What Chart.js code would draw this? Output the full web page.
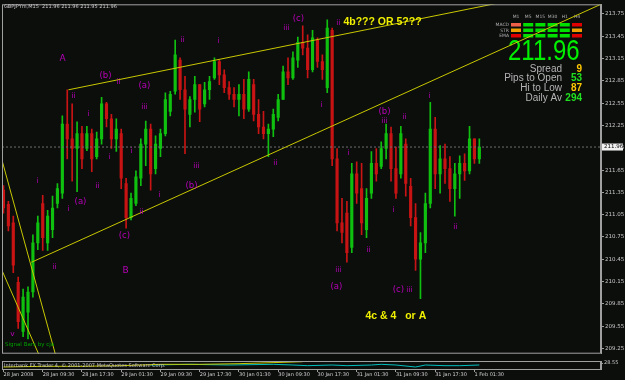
<!DOCTYPE html>
<html>
<head>
<meta charset="utf-8">
<script src="https://cdn.jsdelivr.net/npm/chart.js@4.4.1/dist/chart.umd.min.js"></script>
<style>
html, body { margin: 0; padding: 0; background: #0c0e0c; }
#wrap { position: relative; width: 625px; height: 380px; overflow: hidden; background: #0c0e0c; }
#main { position: absolute; left: 0; top: 0; }
#ind { position: absolute; left: 0; top: 357px; }
</style>
</head>
<body>
<div id="wrap">
  <canvas id="main" width="625" height="358"></canvas>
  <canvas id="ind" width="625" height="23"></canvas>
</div>
<script>
// GBPJPYm bars, one per hour counted from 28 Jan 01:30
const barOpen = [211.38, 211.19, 210.94, 210.14, 209.48, 209.74, 210.01, 210.67, 211.20, 210.67,
  210.85, 211.20, 211.34, 212.27, 212.07, 211.94, 212.14, 211.94, 212.14, 211.83,
  212.07, 212.54, 212.34, 212.07, 212.14, 211.47, 211.01, 211.20, 211.54, 212.00,
  212.20, 211.67, 211.94, 212.14, 212.44, 212.71, 213.13, 212.73, 212.40, 212.60,
  212.80, 212.54, 212.73, 212.89, 213.11, 212.93, 212.76, 212.67, 212.60, 212.67,
  212.47, 212.80, 212.40, 212.23, 212.14, 212.20, 212.36, 212.60, 212.97, 212.89,
  213.13, 213.37, 213.29, 213.00, 213.40, 213.11, 212.76, 213.53, 211.80, 210.94,
  211.07, 210.61, 211.60, 211.40, 210.85, 211.34, 211.74, 211.70, 211.94, 212.14,
  211.67, 211.60, 212.00, 211.43, 211.01, 210.45, 210.67, 211.20, 212.20, 211.60,
  211.80, 211.67, 211.40, 211.60, 211.74, 211.64, 212.07, 211.80];
const barHigh = [211.44, 211.23, 211.03, 210.21, 210.05, 210.08, 210.78, 211.03, 211.31, 211.11,
  211.30, 211.47, 212.38, 212.73, 212.54, 212.30, 212.24, 212.24, 212.20, 212.16,
  212.63, 212.56, 212.40, 212.34, 212.20, 211.54, 211.34, 211.64, 212.07, 212.31,
  212.27, 212.11, 212.20, 212.69, 212.71, 213.40, 213.16, 212.91, 212.64, 212.91,
  212.80, 212.83, 212.91, 213.16, 213.13, 213.00, 212.84, 212.76, 212.80, 212.87,
  212.97, 212.87, 212.60, 212.44, 212.27, 212.47, 212.67, 213.05, 213.16, 213.24,
  213.44, 213.59, 213.47, 213.53, 213.43, 213.20, 213.67, 213.56, 211.94, 211.27,
  211.23, 211.74, 211.76, 211.74, 211.40, 211.90, 211.94, 212.03, 212.27, 212.23,
  211.96, 212.24, 212.07, 211.54, 211.20, 210.81, 211.34, 212.56, 212.36, 211.98,
  212.00, 211.83, 211.74, 211.84, 211.87, 212.24, 212.07, 212.07];
const barLow = [211.07, 210.83, 210.27, 209.52, 209.41, 209.38, 209.94, 210.58, 210.57, 210.57,
  210.74, 211.14, 211.27, 211.80, 211.50, 211.36, 211.67, 211.91, 211.63, 211.80,
  212.00, 212.23, 211.94, 211.90, 211.40, 210.87, 210.98, 211.17, 211.44, 211.71,
  211.38, 211.60, 211.83, 212.11, 212.38, 212.67, 212.60, 211.87, 212.23, 212.43,
  212.30, 212.50, 212.60, 212.87, 212.80, 212.69, 212.60, 212.50, 212.38, 212.34,
  212.44, 212.31, 212.14, 212.07, 211.83, 212.10, 212.31, 212.60, 212.80, 212.87,
  213.03, 213.20, 212.89, 212.97, 213.03, 212.87, 212.69, 211.71, 210.83, 210.67,
  210.41, 210.54, 211.20, 210.78, 210.74, 211.27, 211.50, 211.67, 211.80, 211.50,
  211.27, 211.54, 211.30, 210.90, 210.30, 209.92, 210.54, 211.14, 211.40, 211.34,
  211.47, 211.23, 211.03, 211.27, 211.51, 211.60, 211.74, 211.74];
const barClose = [211.14, 210.90, 210.37, 209.61, 209.94, 210.01, 210.67, 210.94, 210.74, 211.03,
  211.14, 211.40, 212.27, 212.07, 211.94, 212.14, 211.80, 212.14, 211.80, 212.07,
  212.54, 212.34, 212.07, 212.20, 211.54, 211.01, 211.27, 211.56, 212.00, 212.20,
  211.60, 212.00, 212.14, 212.60, 212.67, 213.20, 212.73, 212.47, 212.60, 212.80,
  212.47, 212.73, 212.84, 213.11, 212.93, 212.76, 212.67, 212.60, 212.67, 212.47,
  212.87, 212.40, 212.23, 212.14, 212.20, 212.40, 212.60, 212.97, 212.89, 213.16,
  213.37, 213.29, 213.00, 213.43, 213.11, 213.00, 213.56, 211.80, 210.94, 210.81,
  210.54, 211.60, 211.34, 210.94, 211.27, 211.74, 211.60, 211.94, 212.14, 211.67,
  211.34, 212.14, 211.47, 211.01, 210.45, 210.67, 211.20, 212.20, 211.60, 211.80,
  211.67, 211.40, 211.60, 211.74, 211.64, 212.07, 211.80, 211.96];

const bidPrice = 211.96;
const priceTicks = [209.25, 209.55, 209.85, 210.15, 210.45, 210.75, 211.05, 211.35, 211.65, 211.95,
  212.25, 212.55, 212.85, 213.15, 213.45, 213.75];
const timeTicks = [0, 8, 16, 24, 32, 40, 48, 56, 64, 72, 80, 88, 96];
const timeLabels = ['28 Jan 2008', '28 Jan 09:30', '28 Jan 17:30', '29 Jan 01:30', '29 Jan 09:30',
  '29 Jan 17:30', '30 Jan 01:30', '30 Jan 09:30', '30 Jan 17:30', '31 Jan 01:30', '31 Jan 09:30',
  '31 Jan 17:30', '1 Feb 01:30'];

// trend lines, [hour, price] pairs
const upperChannel = [{x: 13.25, y: 212.73}, {x: 122.1, y: 214.18}];
const lowerChannel = [{x: 5.71, y: 210.41}, {x: 122.1, y: 213.89}];
const steepLine1 = [{x: -0.5, y: 211.83}, {x: 11.8, y: 208.88}];
const steepLine2 = [{x: -0.5, y: 210.33}, {x: 8, y: 209.05}];

// wave count labels
const waveText = ['A', '(b)', 'ii', 'ii', 'i', '(a)', 'iii', 'i', '(a)', 'ii', 'i', 'i', 'ii', 'v', '(c)', 'B',
  'ii', 'i', 'i', 'iii', '(b)', 'ii', 'i', 'iii', '(c)', 'ii', 'i', 'ii', 'i', '(b)', 'iii', 'ii', 'i', 'i',
  'ii', 'ii', '(c)', 'iii', 'iii', '(a)'];
const waveHour = [12.03, 20.79, 23.44, 14.27, 17.33, 28.74, 28.74, 6.93, 15.70, 19.16, 21.61, 13.25, 10.40, 1.83, 24.66, 24.87,
  28.13, 26.09, 31.80, 39.34, 38.32, 36.49, 43.82, 57.68, 60.13, 68.28, 64.82, 55.44, 70.32, 77.66, 77.66, 81.74, 86.83, 79.49,
  74.40, 92.13, 80.51, 82.76, 68.28, 67.88];
const wavePrice = [213.15, 212.92, 212.83, 212.64, 212.40, 212.79, 212.50, 211.50, 211.23, 211.44, 211.82, 211.13, 210.34, 209.45, 210.77, 210.30,
  211.09, 211.91, 211.31, 211.70, 211.44, 213.40, 213.39, 213.56, 213.69, 213.63, 212.52, 211.75, 211.88, 212.44, 212.31, 212.36, 212.64, 211.11,
  210.58, 210.89, 210.04, 210.04, 210.31, 210.08];

const noteText = ['4b??? OR 5???', '4c & 4   or A'];
const noteHour = [69.3, 73.8];
const notePrice = [213.64, 209.68];

// indicator window
const cyanLine = [{x: 30, y: 28.50}, {x: 38, y: 28.517}, {x: 46, y: 28.50}, {x: 55, y: 28.517}, {x: 59, y: 28.50},
  {x: 62, y: 28.483}, {x: 67, y: 28.50}, {x: 70, y: 28.483}, {x: 75, y: 28.50}, {x: 77, y: 28.517}, {x: 80, y: 28.50},
  {x: 84, y: 28.45}, {x: 86, y: 28.50}, {x: 90, y: 28.483}, {x: 93, y: 28.483}, {x: 97, y: 28.50}];
const yellowLine = [{x: 0, y: 28.45}, {x: 8, y: 28.467}, {x: 16, y: 28.467}, {x: 24, y: 28.483}, {x: 32, y: 28.517},
  {x: 40, y: 28.517}, {x: 48, y: 28.533}, {x: 57, y: 28.567}, {x: 61, y: 28.583}];

const signalNames = ['MACD', 'STR', 'EMA'];
const frameNames = ['M1', 'M5', 'M15', 'M30', 'H1', 'H4'];
const signalColors = [
  ['#f06048', '#00e000', '#00e000', '#00e000', '#00e000', '#e00000'],
  ['#f0a000', '#00e000', '#00e000', '#00e000', '#00e000', '#f0a000'],
  ['#e00000', '#00e000', '#00e000', '#00e000', '#00e000', '#e00000']];
const statNames = ['Spread', 'Pips to Open', 'Hi to Low', 'Daily Av'];
const statValues = ['9', '53', '87', '294'];
const statColors = ['#ffc800', '#20e020', '#ffc800', '#20e020'];

const UP = '#10c010';
const DOWN = '#c81414';
const X_MIN = -0.3, X_MAX = 121.8;

const hours = barOpen.map((v, i) => i);
const wicks = hours.map(i => ({x: i, y: [barLow[i], barHigh[i]]}));
const bodies = hours.map(i => ({x: i, y: [Math.min(barOpen[i], barClose[i]), Math.max(barOpen[i], barClose[i])]}));
const barColors = hours.map(i => barClose[i] >= barOpen[i] ? UP : DOWN);

function txt(ctx, s, x, y, font, color, align) {
    ctx.font = font;
    ctx.fillStyle = color;
    ctx.textAlign = align || 'left';
    ctx.textBaseline = 'middle';
    ctx.fillText(s, x, y);
}

const panelPlugin = {
    id: 'panel',
    beforeDatasetsDraw(chart) {
        const ctx = chart.ctx;
        ctx.save();
        // signal table top right
        frameNames.forEach((f, c) => txt(ctx, f, 516 + c * 12.2, 17, '4.5px DejaVu Sans', '#b0b0b0', 'center'));
        signalNames.forEach((n, r) => {
            txt(ctx, n, 509, 25 + r * 5.5, '4.5px DejaVu Sans', '#b0b0b0', 'right');
            signalColors[r].forEach((col, c) => {
                ctx.fillStyle = col;
                ctx.fillRect(511 + c * 12.2, 23 + r * 5.5, 10, 3.5);
            });
        });
        ctx.save();
        ctx.translate(508, 52);
        ctx.scale(0.8, 1);
        txt(ctx, bidPrice.toFixed(2), 0, 0, '30px Liberation Sans', '#00f000');
        ctx.restore();
        statNames.forEach((n, i) => {
            txt(ctx, n, 562, 69 + i * 9.6, '10px Liberation Sans', '#b4b4b4', 'right');
            txt(ctx, statValues[i], 582, 69 + i * 9.6, 'bold 10px Liberation Sans', statColors[i], 'right');
        });
        ctx.restore();
    },
    afterDraw(chart) {
        const {ctx, chartArea: a, scales: {x, y}} = chart;
        ctx.save();
        ctx.strokeStyle = '#a0a0a0';
        ctx.lineWidth = 1;
        ctx.strokeRect(a.left + 0.5, a.top + 0.5, a.right - a.left - 1, a.bottom - a.top - 1);
        txt(ctx, 'GBPJPYm,M15  211.96 211.96 211.95 211.96', 4, 7, '5px DejaVu Sans', '#c8c8c8');
        ctx.beginPath();
        ctx.rect(a.left, a.top, a.right - a.left, a.bottom - a.top);
        ctx.clip();
        waveText.forEach((t, i) => {
            let size = t.startsWith('(') ? 8.5 : (t === 'A' || t === 'B' ? 9 : 7.5);
            txt(ctx, t, x.getPixelForValue(waveHour[i]), y.getPixelForValue(wavePrice[i]),
                size + 'px DejaVu Sans', '#b800b8', 'center');
        });
        noteText.forEach((t, i) => {
            txt(ctx, t, x.getPixelForValue(noteHour[i]), y.getPixelForValue(notePrice[i]),
                'bold 10.5px Liberation Sans', '#f0f000');
        });
        txt(ctx, 'Signal Bars by cja', 5, 345, '5.5px DejaVu Sans', '#00a000');
        ctx.restore();
        // bid price box on the axis
        const by = y.getPixelForValue(bidPrice);
        ctx.fillStyle = '#f0f0f0';
        ctx.fillRect(a.right + 1, by - 3.5, 21, 7);
        txt(ctx, bidPrice.toFixed(2), a.right + 3, by, '5.5px DejaVu Sans', '#000000');
    }
};

new Chart(document.getElementById('main'), {
    type: 'bar',
    data: {
        datasets: [
            {type: 'line', data: upperChannel, borderColor: '#c8c800', borderWidth: 1, pointRadius: 0},
            {type: 'line', data: lowerChannel, borderColor: '#c8c800', borderWidth: 1, pointRadius: 0},
            {type: 'line', data: steepLine1, borderColor: '#c8c800', borderWidth: 1, pointRadius: 0},
            {type: 'line', data: steepLine2, borderColor: '#c8c800', borderWidth: 1, pointRadius: 0},
            {type: 'line', data: [{x: X_MIN, y: bidPrice}, {x: X_MAX, y: bidPrice}], borderColor: '#707070',
                borderWidth: 1, borderDash: [2, 2], pointRadius: 0},
            {data: wicks, backgroundColor: barColors, barThickness: 1, grouped: false},
            {data: bodies, backgroundColor: barColors, barThickness: 2.5, grouped: false, minBarLength: 1}
        ]
    },
    options: {
        responsive: false,
        animation: false,
        devicePixelRatio: 1,
        layout: {padding: {left: 2, top: 3, right: 0, bottom: 1}},
        plugins: {legend: {display: false}, tooltip: {enabled: false}},
        scales: {
            x: {type: 'linear', min: X_MIN, max: X_MAX, offset: false, display: false},
            y: {
                position: 'right', min: 209.18, max: 213.88,
                afterBuildTicks(axis) { axis.ticks = priceTicks.map(v => ({value: v})); },
                afterFit(axis) { axis.width = 24; },
                grid: {drawOnChartArea: false, color: '#a0a0a0', tickLength: 3},
                border: {color: '#a0a0a0'},
                ticks: {color: '#c8c8c8', font: {size: 5.5, family: 'DejaVu Sans'}, padding: 1,
                    callback: v => v.toFixed(2)}
            }
        }
    },
    plugins: [panelPlugin]
});

const indPlugin = {
    id: 'indFrame',
    afterDraw(chart) {
        const {ctx, chartArea: a} = chart;
        ctx.save();
        ctx.strokeStyle = '#a0a0a0';
        ctx.strokeRect(a.left + 0.5, a.top + 0.5, a.right - a.left - 1, a.bottom - a.top);
        txt(ctx, 'Interbank FX Trader 4, \u00a9 2001-2007 MetaQuotes Software Corp.', 4, a.top + 5,
            '5px DejaVu Sans', '#c8c8c8');
        ctx.restore();
    }
};

new Chart(document.getElementById('ind'), {
    type: 'line',
    data: {
        datasets: [
            {data: yellowLine, borderColor: '#c8c800', borderWidth: 1, pointRadius: 0},
            {data: cyanLine, borderColor: '#00c0c0', borderWidth: 1, pointRadius: 0}
        ]
    },
    options: {
        responsive: false,
        animation: false,
        devicePixelRatio: 1,
        layout: {padding: {left: 2, top: 2, right: 0, bottom: 0}},
        plugins: {legend: {display: false}, tooltip: {enabled: false}},
        scales: {
            x: {
                type: 'linear', min: X_MIN, max: X_MAX, offset: false,
                afterBuildTicks(axis) { axis.ticks = timeTicks.map(v => ({value: v})); },
                afterFit(axis) { axis.height = 11; },
                grid: {drawOnChartArea: false, color: '#a0a0a0', tickLength: 3},
                border: {display: false},
                ticks: {color: '#d0d0d0', font: {size: 5, family: 'DejaVu Sans'}, padding: 0, align: 'start',
                    maxRotation: 0, autoSkip: false,
                    callback: v => timeLabels[timeTicks.indexOf(v)]}
            },
            y: {
                position: 'right', min: 28.40, max: 28.60,
                afterBuildTicks(axis) { axis.ticks = [{value: 28.55}, {value: 28.45}]; },
                afterFit(axis) { axis.width = 24; },
                grid: {drawOnChartArea: false, color: '#a0a0a0', tickLength: 2},
                border: {color: '#a0a0a0'},
                ticks: {color: '#c8c8c8', font: {size: 5, family: 'DejaVu Sans'}, padding: 1,
                    callback: v => v.toFixed(2)}
            }
        }
    },
    plugins: [indPlugin]
});
</script>
</body>
</html>
